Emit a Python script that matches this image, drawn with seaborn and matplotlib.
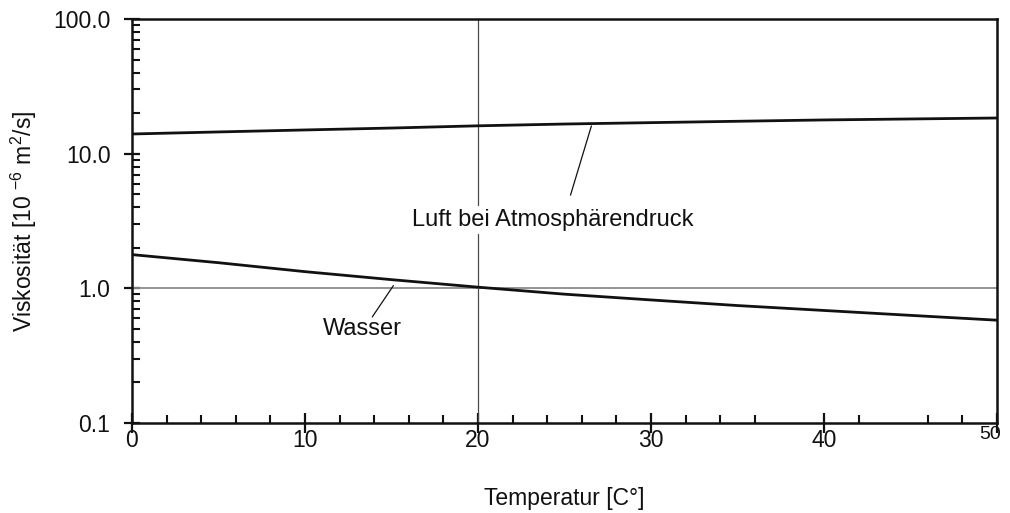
import numpy as np
import pandas as pd
import matplotlib
matplotlib.use("Agg")
import matplotlib.pyplot as plt
import matplotlib.transforms as mtransforms
import seaborn as sns

# ---- data ----
temperature = [0, 5, 10, 15, 20, 25, 30, 35, 40, 45, 50]
air_viscosity = [14.0, 14.5, 15.0, 15.5, 16.1, 16.6, 17.0, 17.4, 17.8, 18.1, 18.4]
water_viscosity = [1.78, 1.55, 1.33, 1.16, 1.02, 0.905, 0.82, 0.745, 0.685, 0.63, 0.58]
series_names = ["Luft bei Atmosphärendruck", "Wasser"]

x_major = [0, 10, 20, 30, 40, 50]
x_minor = [2, 4, 6, 8, 12, 14, 16, 18, 22, 24, 26, 28, 32, 34, 36, 42, 46, 48]
y_major = [0.1, 1.0, 10.0, 100.0]
y_major_labels = ["0.1", "1.0", "10.0", "100.0"]

ref_x = 20
ref_y = 1.0

sns.set_theme(style="ticks")
plt.rcParams["font.family"] = ["Liberation Sans", "DejaVu Sans"]
plt.rcParams["mathtext.fontset"] = "custom"
plt.rcParams["mathtext.rm"] = "Liberation Sans"
plt.rcParams["mathtext.it"] = "Liberation Sans"
plt.rcParams["mathtext.default"] = "rm"

df = pd.DataFrame({
    "T": temperature * 2,
    "nu": air_viscosity + water_viscosity,
    "medium": [series_names[0]] * len(temperature) + [series_names[1]] * len(temperature),
})

fig = plt.figure(figsize=(10.10, 5.13), dpi=100)
ax = fig.add_axes([132 / 1010, 1 - 423 / 513, (997 - 132) / 1010, (423 - 19) / 513])

# reference lines
ax.axvline(ref_x, color="#4a4a4a", lw=0.9, zorder=1)
ax.axhline(ref_y, color="#8a8a8a", lw=1.3, zorder=1)

sns.lineplot(data=df, x="T", y="nu", hue="medium",
             palette=["#111111", "#111111"], linewidth=2.0,
             legend=False, ax=ax, zorder=3)

ax.set_yscale("log")
ax.set_xlim(0, 50)
ax.set_ylim(0.1, 100)

ax.set_xticks(x_major)
ax.set_xticklabels([str(v) for v in x_major])
ax.set_xticks(x_minor, minor=True)
ax.set_yticks(y_major)
ax.set_yticklabels(y_major_labels)
ax.yaxis.set_minor_locator(matplotlib.ticker.LogLocator(base=10, subs=np.arange(2, 10)))
ax.yaxis.set_minor_formatter(matplotlib.ticker.NullFormatter())

ax.tick_params(axis="x", which="major", direction="inout", length=14, width=1.6,
               labelsize=16.5, pad=-2.5, colors="#111111")
ax.tick_params(axis="x", which="minor", direction="in", length=6, width=1.5,
               colors="#111111")
ax.tick_params(axis="y", which="major", direction="inout", length=11, width=1.6,
               labelsize=16.5, pad=10, colors="#111111")
ax.tick_params(axis="y", which="minor", direction="in", length=6, width=1.5,
               colors="#111111")
ax.tick_params(top=False, right=False, which="both")

# last x label slightly smaller and shifted as in the reference
lbls = ax.get_xticklabels()
lbls[-1].set_fontsize(14)
lbls[-1].set_transform(lbls[-1].get_transform() +
                       mtransforms.ScaledTranslation(-5 / 72, 2 / 72, fig.dpi_scale_trans))

for s in ax.spines.values():
    s.set_visible(True)
    s.set_linewidth(1.8)
    s.set_color("#111111")

ax.set_xlabel("Temperatur [C°]", fontsize=16.5, labelpad=25, color="#111111")
ax.set_ylabel(r"Viskosität [10 $^{-6}$ m$^{2}$/s]", fontsize=16.5, labelpad=10,
              color="#111111")

# annotations
ax.annotate("", xy=(26.6, 16.8), xytext=(25.3, 4.7),
            arrowprops=dict(arrowstyle="-", color="#111111", lw=0.9))
ax.text(24.3, 3.2, series_names[0], fontsize=17, ha="center", va="center",
        color="#111111", zorder=4,
        bbox=dict(facecolor="white", edgecolor="none", pad=2))
ax.annotate("", xy=(15.2, 1.09), xytext=(13.8, 0.59),
            arrowprops=dict(arrowstyle="-", color="#111111", lw=0.9))
ax.text(13.3, 0.495, series_names[1], fontsize=17, ha="center", va="center",
        color="#111111", zorder=4)

fig.savefig("out.png", dpi=100)
